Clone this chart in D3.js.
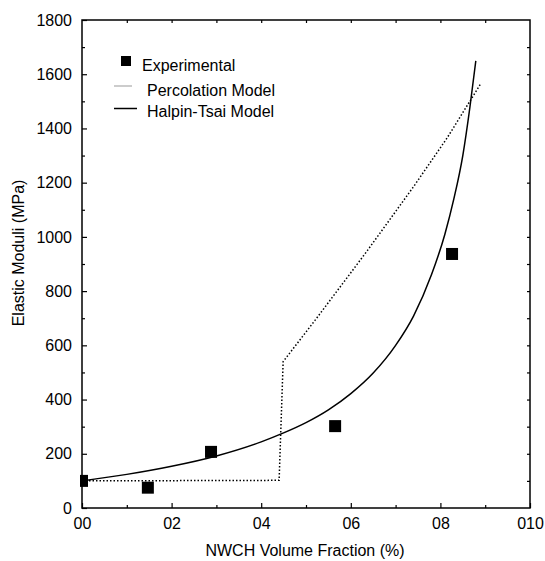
<!DOCTYPE html>
<html>
<head>
<meta charset="utf-8">
<script src="https://cdn.jsdelivr.net/npm/d3@7"></script>
<style>
  body { margin: 0; background: #fff; }
  svg { display: block; font-family: Arial, "Liberation Sans", sans-serif; }
</style>
</head>
<body>
<script>
// datos
const experimental = [[0, 100], [0.0147, 75], [0.0288, 207], [0.0565, 302], [0.0826, 937]];
const percolation = [[0, 100], [0.044, 102], [0.0449, 540], [0.052, 692], [0.0591, 848],
                     [0.0635, 945], [0.074, 1185], [0.0815, 1365], [0.089, 1565]];
const halpinTsai = [[0, 100], [0.01, 124], [0.02, 154], [0.03, 192], [0.04, 244], [0.045, 277],
                    [0.05, 315], [0.055, 362], [0.06, 422], [0.065, 498], [0.07, 600],
                    [0.074, 708], [0.078, 860], [0.081, 1010], [0.083, 1140], [0.085, 1300],
                    [0.0866, 1480], [0.0879, 1649]];
const xTicks = [0, 0.02, 0.04, 0.06, 0.08, 0.10];
const xTickLabels = ["00", "02", "04", "06", "08", "010"];
const xMinor = [0.01, 0.03, 0.05, 0.07, 0.09];
const yTicks = [0, 200, 400, 600, 800, 1000, 1200, 1400, 1600, 1800];
const yMinor = [100, 300, 500, 700, 900, 1100, 1300, 1500, 1700];
const legendNames = ["Experimental", "Percolation Model", "Halpin-Tsai Model"];

const width = 545, height = 561;
const margin = { top: 20, right: 15, bottom: 53, left: 82 };
const w = width - margin.left - margin.right;
const h = height - margin.top - margin.bottom;

const svg = d3.select("body").append("svg")
    .attr("width", width)
    .attr("height", height);

const g = svg.append("g").attr("transform", `translate(${margin.left},${margin.top})`);

const x = d3.scaleLinear().domain([0, 0.10]).range([0, w]);
const y = d3.scaleLinear().domain([0, 1800]).range([h, 0]);

g.append("defs").append("clipPath").attr("id", "clip")
  .append("rect").attr("x", -2).attr("y", 0).attr("width", w).attr("height", h);

// ejes: marcas hacia dentro
function estilo(sel) {
  sel.select(".domain").remove();
  sel.selectAll("line").attr("stroke", "#000").attr("stroke-width", 1.2);
  sel.selectAll("text").attr("font-size", "16px").attr("fill", "#000").attr("font-family", null);
}

g.append("g").attr("transform", `translate(0,${h})`)
  .call(d3.axisBottom(x).tickValues(xTicks).tickSize(-5).tickPadding(10)
        .tickFormat((d, i) => xTickLabels[i]))
  .call(estilo);
g.append("g").attr("transform", `translate(0,${h})`)
  .call(d3.axisBottom(x).tickValues(xMinor).tickSize(-3).tickFormat(""))
  .call(estilo);
g.append("g")
  .call(d3.axisLeft(y).tickValues(yTicks).tickSize(-5).tickPadding(10).tickFormat(d3.format("d")))
  .call(estilo);
g.append("g")
  .call(d3.axisLeft(y).tickValues(yMinor).tickSize(-3).tickFormat(""))
  .call(estilo);
g.append("g")
  .call(d3.axisTop(x).tickValues(d3.range(1, 10).map(d => d / 100)).tickSize(-3).tickFormat(""))
  .call(estilo);
g.append("g").attr("transform", `translate(${w},0)`)
  .call(d3.axisRight(y).tickValues(d3.range(100, 1800, 100)).tickSize(-3).tickFormat(""))
  .call(estilo);

// curvas
g.append("path")
  .datum(percolation)
  .attr("d", d3.line().x(d => x(d[0])).y(d => y(d[1])))
  .attr("fill", "none")
  .attr("stroke", "#000")
  .attr("stroke-width", 1.5)
  .attr("stroke-dasharray", "1.5,2");

g.append("path")
  .datum(halpinTsai)
  .attr("d", d3.line().x(d => x(d[0])).y(d => y(d[1])).curve(d3.curveMonotoneX))
  .attr("fill", "none")
  .attr("stroke", "#000")
  .attr("stroke-width", 1.5);

// puntos experimentales
const lado = 12;
g.append("g").attr("clip-path", "url(#clip)")
  .selectAll("rect")
  .data(experimental)
  .enter().append("rect")
  .attr("x", d => x(d[0]) - lado / 2)
  .attr("y", d => y(d[1]) - lado / 2)
  .attr("width", lado)
  .attr("height", lado)
  .attr("fill", "#000");

// marco
g.append("rect")
  .attr("width", w).attr("height", h)
  .attr("fill", "none").attr("stroke", "#000").attr("stroke-width", 1.5);

// títulos de ejes
svg.append("text")
  .attr("x", margin.left + w / 2 - 1)
  .attr("y", 556)
  .attr("text-anchor", "middle")
  .attr("font-size", "16px")
  .text("NWCH Volume Fraction (%)");

svg.append("text")
  .attr("transform", "translate(24,253) rotate(-90)")
  .attr("text-anchor", "middle")
  .attr("font-size", "16px")
  .text("Elastic Moduli (MPa)");

// leyenda
const ley = svg.append("g");
ley.append("rect").attr("x", 121).attr("y", 56).attr("width", 10).attr("height", 10).attr("fill", "#000");
ley.append("line").attr("x1", 114).attr("x2", 132).attr("y1", 86).attr("y2", 86)
  .attr("stroke", "#999").attr("stroke-width", 1);
ley.append("line").attr("x1", 114).attr("x2", 137).attr("y1", 108.5).attr("y2", 108.5)
  .attr("stroke", "#000").attr("stroke-width", 1.5);
ley.selectAll("text.leyenda")
  .data(legendNames)
  .enter().append("text")
  .attr("class", "leyenda")
  .attr("x", (d, i) => i === 0 ? 142 : 147)
  .attr("y", (d, i) => [71, 96, 117][i])
  .attr("font-size", "16px")
  .text(d => d);
</script>
</body>
</html>
